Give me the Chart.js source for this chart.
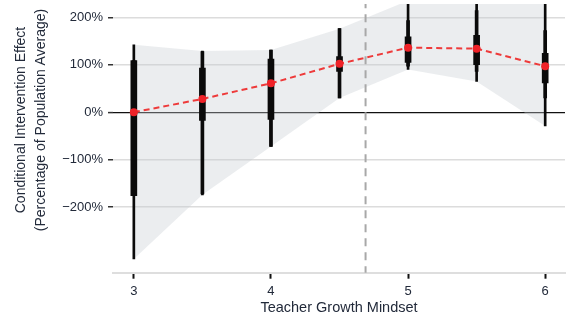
<!DOCTYPE html>
<html>
<head>
<meta charset="utf-8">
<script src="https://cdn.jsdelivr.net/npm/chart.js@4/dist/chart.umd.min.js"></script>
<style>
  html, body { margin: 0; padding: 0; background: #fff; }
  canvas { display: block; }
</style>
</head>
<body>
<canvas id="effectChart" width="569" height="318"></canvas>
<script>
// teacher mindset levels and estimated effects (% of population average)
const mindset = [3, 3.5, 4, 4.5, 5, 5.5, 6];
const effect = [0, 28, 61, 102, 136, 134, 97];
// interval ends: thin (outer), medium, thick (inner)
const outerLo = [-309, -174, -72, 30, 90, 65, -29];
const outerHi = [142, 129, 131, 176, 235, 255, 275];
const midLo = [-176, -172, -72, 30, 97, 86, 30];
const midHi = [109, 128, 131, 176, 193, 214, 172];
const innerLo = [-176, -17, -15, 86, 105, 100, 62];
const innerHi = [109, 93, 112, 117, 159, 162, 124];
const meanMindset = 4.69;

const xTicks = [3, 4, 5, 6];
const yTicks = [-200, -100, 0, 100, 200];
const yTitle = ['Conditional Intervention Effect', '(Percentage of Population Average)'];
const xTitle = 'Teacher Growth Mindset';

const FONT = '"Liberation Sans", Arial, sans-serif';
const TEXT = '#222a3a';

const pts = (ys) => mindset.map((x, i) => ({ x: x, y: ys[i] }));
const range = (lo, hi) => mindset.map((x, i) => ({ x: x, y: [lo[i], hi[i]] }));

// y title is offset from the plot centre in the original, so draw it by hand
const yTitlePlugin = {
  id: 'yTitle',
  afterDraw(chart) {
    const ctx = chart.ctx;
    ctx.save();
    ctx.translate(21, 120);
    ctx.rotate(-Math.PI / 2);
    ctx.fillStyle = TEXT;
    ctx.font = '14px ' + FONT;
    ctx.textAlign = 'center';
    ctx.textBaseline = 'middle';
    ctx.fillText(yTitle[0], 0, 0);
    ctx.fillText(yTitle[1], 0, 20);
    ctx.restore();
  }
};

const bar = (data, w, order) => ({
  type: 'bar',
  data: data,
  backgroundColor: '#0a0a0a',
  borderWidth: 0,
  barThickness: w,
  grouped: false,
  order: order
});

new Chart(document.getElementById('effectChart').getContext('2d'), {
  type: 'line',
  data: {
    datasets: [
      {
        data: pts(effect),
        borderColor: '#ee3a3a',
        borderWidth: 2,
        borderDash: [6, 4],
        pointRadius: 4,
        pointBackgroundColor: '#ef2228',
        pointBorderWidth: 0,
        tension: 0,
        order: 0
      },
      bar(range(innerLo, innerHi), 6, 1),
      bar(range(midLo, midHi), 3, 2),
      bar(range(outerLo, outerHi), 2, 3),
      {
        data: [{ x: meanMindset, y: -400 }, { x: meanMindset, y: 300 }],
        borderColor: '#a8a8a8',
        borderWidth: 2,
        borderDash: [8, 6],
        pointRadius: 0,
        order: 4
      },
      {
        data: pts(outerHi),
        borderWidth: 0,
        pointRadius: 0,
        fill: '+1',
        backgroundColor: 'rgba(200, 205, 212, 0.36)',
        order: 5
      },
      {
        data: pts(outerLo),
        borderWidth: 0,
        pointRadius: 0,
        fill: false,
        order: 6
      }
    ]
  },
  options: {
    responsive: false,
    animation: false,
    layout: { padding: 0 },
    plugins: {
      legend: { display: false },
      tooltip: { enabled: false }
    },
    scales: {
      x: {
        type: 'linear',
        min: 2.848,
        max: 6.1445,
        offset: false,
        afterBuildTicks: (s) => { s.ticks = xTicks.map(v => ({ value: v })); },
        afterFit: (s) => { s.height = 45.3; s.paddingLeft = 0; s.paddingRight = 0; },
        grid: {
          offset: false,
          drawOnChartArea: false,
          drawTicks: true,
          tickLength: 6,
          tickColor: '#111',
          tickWidth: 2
        },
        border: { display: true, color: '#dedede', width: 2 },
        ticks: {
          color: TEXT,
          padding: 5,
          font: { family: FONT, size: 13 },
          maxRotation: 0
        },
        title: {
          display: true,
          text: xTitle,
          color: TEXT,
          font: { family: FONT, size: 14.5 },
          padding: { top: 0, bottom: 1 }
        }
      },
      y: {
        type: 'linear',
        min: -338,
        max: 228,
        afterBuildTicks: (s) => { s.ticks = yTicks.map(v => ({ value: v })); },
        afterFit: (s) => { s.width = 113; s.paddingTop = 0; s.paddingBottom = 0; },
        grid: {
          color: (c) => c.tick && c.tick.value === 0 ? '#111' : '#dcdcdc',
          lineWidth: (c) => c.tick && c.tick.value === 0 ? 1.2 : 1.5,
          tickColor: '#333',
          tickLength: 5,
          tickWidth: 1.5
        },
        border: { display: false },
        ticks: {
          color: TEXT,
          padding: 5,
          font: { family: FONT, size: 13 },
          callback: (v) => (v < 0 ? '\u2212' + Math.abs(v) : v) + '%'
        }
      }
    }
  },
  plugins: [yTitlePlugin]
});
</script>
</body>
</html>
